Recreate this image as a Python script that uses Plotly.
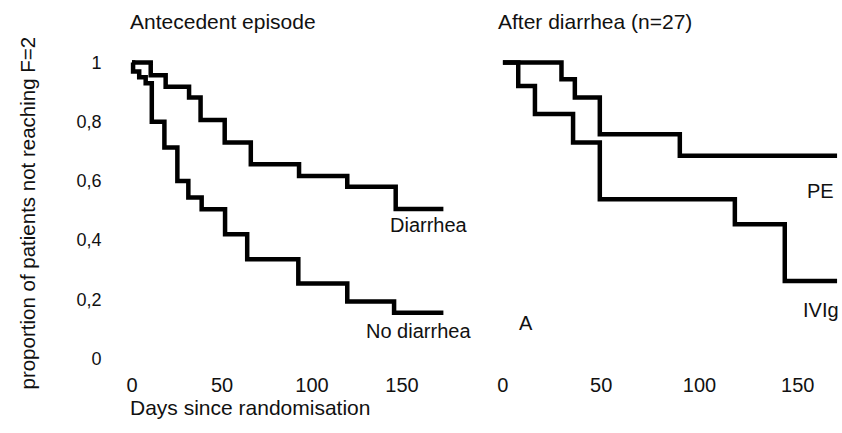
import plotly.graph_objects as go

# ---- data ----
diar_days = [0, 10.4, 18.7, 31.7, 38.1, 51.5, 66, 92.8, 119.6, 146.5, 173]
diar_surv = [1.0, 0.957, 0.918, 0.882, 0.806, 0.73, 0.656, 0.617, 0.58, 0.505, 0.505]

nodiar_days = [0, 0.6, 4, 7.6, 11, 18, 25.2, 31.3, 38.7, 51.7, 64, 92.4, 119.6, 145.6, 173]
nodiar_surv = [1.0, 0.97, 0.95, 0.93, 0.80, 0.713, 0.60, 0.544, 0.504, 0.42, 0.335, 0.253, 0.193, 0.155, 0.155]

pe_days = [0, 29.8, 36.6, 49.3, 90, 170]
pe_surv = [1.0, 0.944, 0.882, 0.758, 0.685, 0.685]

ivig_days = [0, 7.8, 16.3, 35.7, 49.3, 118, 143.4, 170]
ivig_surv = [1.0, 0.921, 0.826, 0.73, 0.538, 0.454, 0.262, 0.262]

x_ticks = [0, 50, 100, 150]
y_ticks = [0, 0.2, 0.4, 0.6, 0.8, 1]
y_tick_labels = ["0", "0,2", "0,4", "0,6", "0,8", "1"]

FONT = "Liberation Sans, Arial, sans-serif"
INK = "#111111"
W, H = 842, 433

fig = go.Figure()
line = dict(color="black", width=4.5, shape="hv")
fig.add_trace(go.Scatter(x=diar_days, y=diar_surv, mode="lines", line=line, xaxis="x", yaxis="y", showlegend=False))
fig.add_trace(go.Scatter(x=nodiar_days, y=nodiar_surv, mode="lines", line=line, xaxis="x", yaxis="y", showlegend=False))
fig.add_trace(go.Scatter(x=pe_days, y=pe_surv, mode="lines", line=line, xaxis="x2", yaxis="y2", showlegend=False))
fig.add_trace(go.Scatter(x=ivig_days, y=ivig_surv, mode="lines", line=line, xaxis="x2", yaxis="y2", showlegend=False))

# y: value 1 at px 63, value 0 at px 361; plot area px 50..368
y_top_px, y_bot_px = 50, 368
yr = [-(y_bot_px - 361) / 298, 1 + (63 - y_top_px) / 298]
ydom = [(H - y_bot_px) / H, (H - y_top_px) / H]

xaxis_common = dict(showgrid=False, zeroline=False, showline=False, ticks="",
                    tickvals=x_ticks, tickfont=dict(family=FONT, size=20, color=INK),
                    ticklabelstandoff=6, fixedrange=True)

fig.update_layout(
    width=W, height=H,
    margin=dict(l=0, r=0, t=0, b=0),
    paper_bgcolor="white", plot_bgcolor="white",
    xaxis=dict(domain=[126.6 / W, 445.2 / W], range=[-3, 174], anchor="y", **xaxis_common),
    xaxis2=dict(domain=[497 / W, 841 / W], range=[-3, 172], anchor="y2", **xaxis_common),
    yaxis=dict(domain=ydom, range=yr, showgrid=False, zeroline=False, showline=False, ticks="",
               tickvals=y_ticks, ticktext=y_tick_labels,
               tickfont=dict(family=FONT, size=18, color=INK), ticklabelstandoff=24, anchor="x"),
    yaxis2=dict(domain=ydom, range=yr, showgrid=False, zeroline=False, showline=False,
                showticklabels=False, ticks="", anchor="x2"),
)

def ann(text, x, y, xanchor="left", size=20, angle=0):
    fig.add_annotation(text=text, x=x / W, y=(H - y) / H, xref="paper", yref="paper",
                       xanchor=xanchor, yanchor="middle", showarrow=False, textangle=angle,
                       font=dict(family=FONT, size=size, color=INK))

ann("Antecedent episode", 128, 22, size=21)
ann("After diarrhea (n=27)", 496, 22, size=21)
ann("Days since randomisation", 128, 410, size=21)
ann("proportion of patients not reaching F=2", 28, 215, xanchor="center", size=20.5, angle=-90)
ann("Diarrhea", 470, 227, xanchor="right")
ann("No diarrhea", 473, 333, xanchor="right")
ann("A", 517, 325)
ann("PE", 836, 192, xanchor="right")
ann("IVIg", 841, 312, xanchor="right")

fig.write_html("out.html")
